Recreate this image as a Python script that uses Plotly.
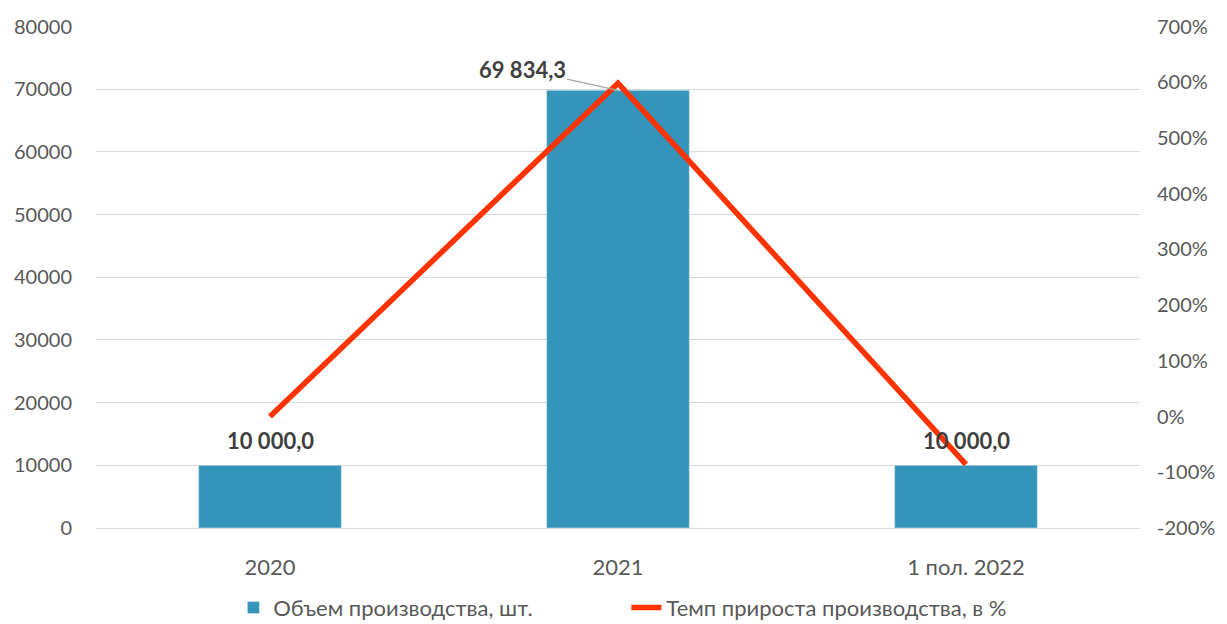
import plotly.graph_objects as go

categories = ['2020', '2021', '1 пол. 2022']
volume = [10000.0, 69834.3, 10000.0]
growth = [0.0, 598.3, -85.7]
volume_labels = ['10 000,0', '69 834,3', '10 000,0']

left_ticks = [0, 10000, 20000, 30000, 40000, 50000, 60000, 70000, 80000]
right_ticks = [-200, -100, 0, 100, 200, 300, 400, 500, 600, 700]

font_name = 'Lato'
grey = '#595959'
dark = '#404040'

fig = go.Figure()

fig.add_trace(go.Bar(x=categories, y=volume,
                     name='Объем производства, шт.',
                     marker=dict(color='#3494BA'),
                     width=0.41))

fig.add_trace(go.Scatter(x=categories, y=growth,
                         mode='lines',
                         name='Темп прироста производства, в %',
                         line=dict(color='#FF3300', width=5.5),
                         yaxis='y2'))

# value labels (x given as category index); the middle one has a leader line
for i, (val, lab) in enumerate(zip(volume, volume_labels)):
    if i == 1:
        fig.add_annotation(x=i, y=val, text=f'<b>{lab}</b>',
                           showarrow=True, arrowhead=0, arrowwidth=1.2,
                           arrowcolor='#A6A6A6', ax=-96, ay=-21,
                           font=dict(family=font_name, size=22, color=dark))
    else:
        fig.add_annotation(x=i, y=val, text=f'<b>{lab}</b>',
                           showarrow=False, yshift=25, yanchor='middle',
                           font=dict(family=font_name, size=22, color=dark))

fig.update_layout(
    width=1219, height=616,
    margin=dict(l=88, r=87, t=18, b=96, autoexpand=False),
    paper_bgcolor='white', plot_bgcolor='white',
    font=dict(family=font_name, size=22, color=grey),
    xaxis=dict(type='category', range=[-0.5, 2.5], showgrid=False, showline=True,
               linecolor='#D9D9D9', tickfont=dict(size=22, color=grey), ticks='',
               ticklabelstandoff=20, automargin=False),
    yaxis=dict(range=[0, 80100], tickvals=left_ticks,
               ticktext=[str(v) for v in left_ticks],
               showgrid=True, gridcolor='#D9D9D9', gridwidth=1,
               zeroline=False, tickfont=dict(size=20, color=grey),
               ticklabelstandoff=23, automargin=False),
    yaxis2=dict(range=[-200, 701], tickvals=right_ticks,
                ticktext=[f'{v}%' for v in right_ticks],
                overlaying='y', side='right',
                showgrid=False, zeroline=False,
                tickfont=dict(size=20, color=grey),
                ticklabelstandoff=16, automargin=False),
    legend=dict(orientation='h', x=0.508, xanchor='center', y=-0.159, yanchor='middle',
                entrywidth=348, entrywidthmode='pixels',
                font=dict(size=22, color=grey)),
    showlegend=True,
)

fig.write_html('out.html')
